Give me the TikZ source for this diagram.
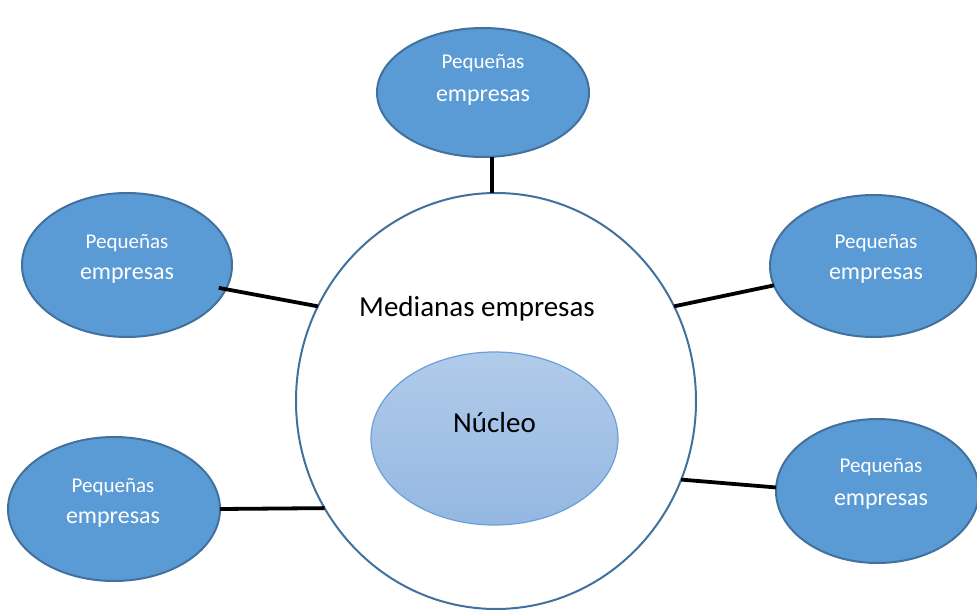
\documentclass[tikz,border=0pt]{standalone}
\usepackage{fontspec}
\setmainfont{Carlito}
\usetikzlibrary{shapes.geometric,calc}
\definecolor{satfill}{HTML}{5B9BD5}
\definecolor{satline}{HTML}{41719C}
\definecolor{bigline}{HTML}{41719C}
\definecolor{nuctop}{HTML}{B1CBEA}
\definecolor{nucbot}{HTML}{94B8E2}
\definecolor{nucline}{HTML}{6A9FD8}
\begin{document}
\begin{tikzpicture}[x=1pt,y=-1pt,
  sat/.style={ellipse,draw=satline,line width=2pt,fill=satfill,inner sep=0pt,outer sep=0pt},
  smallw/.style={text=white,font=\fontsize{21}{25}\selectfont,anchor=base,inner sep=0pt},
  bigw/.style={text=white,font=\fontsize{24}{28}\selectfont,anchor=base,inner sep=0pt},
  midtext/.style={text=black,font=\fontsize{29}{34}\selectfont,anchor=base,inner sep=0pt},
  link/.style={line width=3.8pt,black}]
\useasboundingbox (0,0) rectangle (977,610);
\clip (0,0) rectangle (977,610);
% big circle
\node[ellipse,draw=bigline,line width=2pt,fill=white,inner sep=0pt,outer sep=0pt,
      minimum width=400pt,minimum height=416pt] (big) at (496,401) {};
% nucleus
\node[ellipse,draw=nucline,line width=1.2pt,top color=nuctop,bottom color=nucbot,
      inner sep=0pt,outer sep=0pt,minimum width=247pt,minimum height=173pt] (nuc) at (494.5,438.5) {};
% satellites
\node[sat,minimum width=212pt,minimum height=129pt] (top) at (483,92.5) {};
\node[sat,minimum width=210pt,minimum height=144pt] (ul) at (127,265) {};
\node[sat,minimum width=207pt,minimum height=142pt] (ur) at (873.5,266) {};
\node[sat,minimum width=212pt,minimum height=144pt] (ll) at (114,509) {};
\node[sat,minimum width=203pt,minimum height=144pt] (lr) at (877.5,491) {};
% connectors
\draw[link] (big.91.4) -- (big.91.4 |- top.south);
\draw[link] ($(ul.center)!0.93!(ul.346.6)$) -- (big.152.2);
\draw[link] (ur.191.5) -- (big.28.1);
\draw[link] (ll.east) -- (big.212.3);
\draw[link] (lr.178) -- (big.337.2);
% texts
\node[smallw] (t1a) at (483,68) {Pequeñas};
\node[bigw]   (t1b) at (483,101) {empresas};
\node[smallw] (t2a) at (127,248) {Pequeñas};
\node[bigw]   (t2b) at (127,279) {empresas};
\node[smallw] (t3a) at (876,248) {Pequeñas};
\node[bigw]   (t3b) at (876,279) {empresas};
\node[smallw] (t4a) at (113,492) {Pequeñas};
\node[bigw]   (t4b) at (113,523) {empresas};
\node[smallw] (t5a) at (881,472) {Pequeñas};
\node[bigw]   (t5b) at (881,505) {empresas};
\node[midtext] (medtxt) at (477,316) {Medianas empresas};
\node[midtext] (nuctxt) at (494.5,432) {Núcleo};
\end{tikzpicture}
\end{document}
